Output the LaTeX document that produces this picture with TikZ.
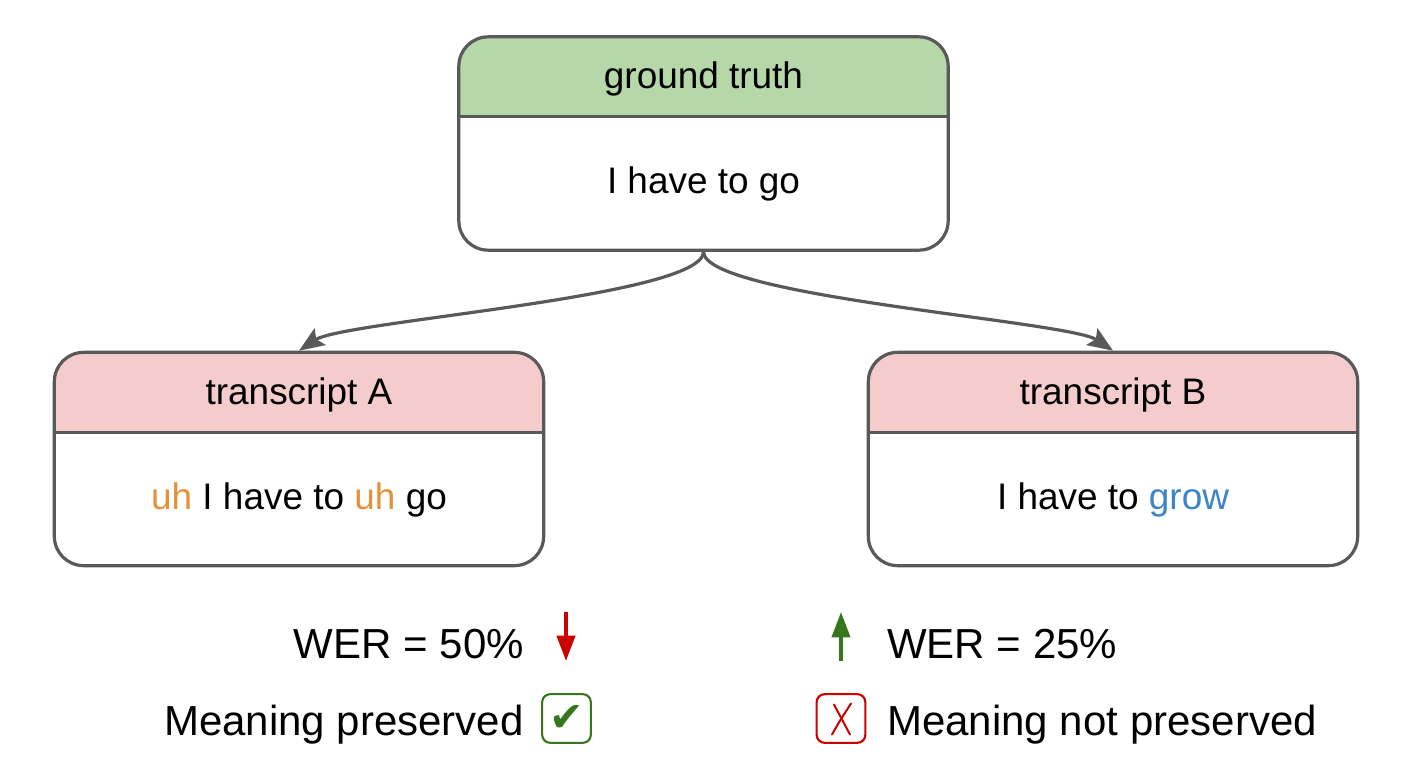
\documentclass[tikz,border=0pt]{standalone}
\usepackage{fontspec}
\setmainfont{Liberation Sans}
\newfontfamily\symfont{DejaVu Sans}
\usetikzlibrary{arrows.meta}
\definecolor{strokegray}{HTML}{595959}
\definecolor{hdrgreen}{HTML}{B6D7A8}
\definecolor{hdrpink}{HTML}{F4CCCC}
\definecolor{fillerorange}{HTML}{E69138}
\definecolor{wrongblue}{HTML}{3D85C6}
\definecolor{okgreen}{HTML}{38761D}
\definecolor{badred}{HTML}{CC0000}
\begin{document}
\begin{tikzpicture}[x=0.75pt,y=-0.75pt,
  cardbox/.style={draw=strokegray, line width=2.4pt, rounded corners=22pt,
    fill=white, minimum width=367pt, minimum height=160pt, inner sep=0pt},
  hdr/.style={path picture={
      \fill[#1, sharp corners] (path picture bounding box.north west) rectangle
        ([yshift=-60pt]path picture bounding box.north east);
      \draw[strokegray, line width=2.4pt, sharp corners]
        ([yshift=-60pt]path picture bounding box.north west) --
        ([yshift=-60pt]path picture bounding box.north east);}},
  boxtext/.style={font=\fontsize{27.7pt}{32pt}\selectfont, anchor=base, inner sep=0pt},
  bigtext/.style={font=\fontsize{31.5pt}{36pt}\selectfont, inner sep=0pt},
  conn/.style={draw=strokegray, line width=2.4pt,
    -{Stealth[length=19pt,width=15pt,inset=3.5pt]}},
  trend/.style={line width=3pt, -{Triangle[length=19pt,width=13.5pt]}},
  markbox/.style={draw=#1, line width=1.6pt, rounded corners=6pt,
    minimum width=36.5pt, minimum height=36.5pt, inner sep=0pt, text=#1}
]
\useasboundingbox (0,0) rectangle (1409,770);

% boxes
\node[cardbox, hdr=hdrgreen] (gt) at (703.5,143.5) {};
\node[cardbox, hdr=hdrpink] (ta) at (299,459) {};
\node[cardbox, hdr=hdrpink] (tb) at (1113,459) {};

% box texts
\node[boxtext] (gth) at (703.5,89) {ground truth};
\node[boxtext] (gtb) at (703.5,194) {I have to go};
\node[boxtext] (tah) at (299,404) {transcript A};
\node[boxtext] (tab) at (299,509) {\textcolor{fillerorange}{uh} I have to \textcolor{fillerorange}{uh} go};
\node[boxtext] (tbh) at (1113,404) {transcript B};
\node[boxtext] (tbb) at (1113,509) {I have to \textcolor{wrongblue}{grow}};

% connectors
\draw[conn] (gt.south) .. controls +(0,45) and +(45,-30) .. (ta.north);
\draw[conn] (gt.south) .. controls +(0,45) and +(-45,-30) .. (tb.north);

% bottom texts
\node[bigtext, anchor=base east] (werA) at (524,658) {WER = 50\%};
\node[bigtext, anchor=base east] (mA) at (524,735) {Meaning preserved};
\node[bigtext, anchor=base west] (werB) at (887,658) {WER = 25\%};
\node[bigtext, anchor=base west] (mB) at (887,735) {Meaning not preserved};

% trend arrows
\coordinate (rdTop) at (566,612);
\coordinate (rdTip) at (566,661);
\coordinate (guBot) at (841,661);
\coordinate (guTip) at (841,612);
\draw[trend, badred] (rdTop) -- (rdTip);
\draw[trend, okgreen] (guBot) -- (guTip);

% mark boxes
\node[markbox=okgreen] (chk) at (566.5,718.5) {\symfont\fontsize{31pt}{31pt}\selectfont ✔};
\node[markbox=badred] (crs) at (841,718.5) {};
\draw[badred, line width=1.5pt, line cap=round]
  ([shift={(-9,16)}]crs.center) .. controls ([shift={(-1,2)}]crs.center) .. ([shift={(10,-15)}]crs.center);
\draw[badred, line width=1.5pt, line cap=round]
  ([shift={(-7,-14)}]crs.center) .. controls ([shift={(1,1)}]crs.center) .. ([shift={(9,16)}]crs.center);
\end{tikzpicture}
\end{document}
